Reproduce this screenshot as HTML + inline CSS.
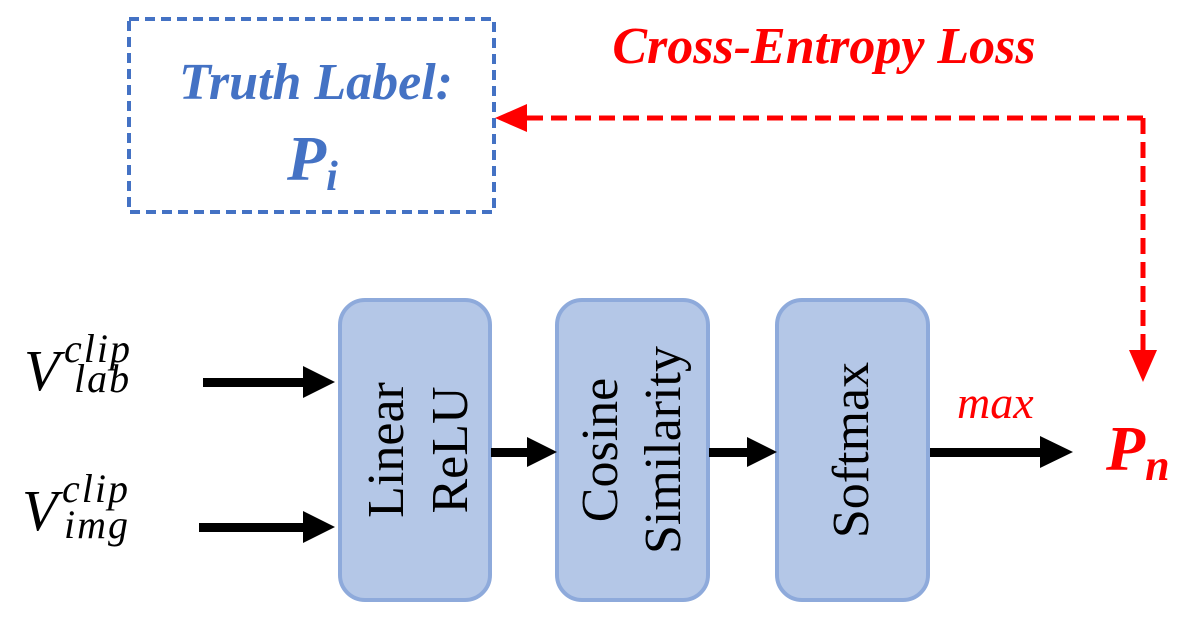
<!DOCTYPE html>
<html><head><style>body{margin:0;background:#fff}svg{display:block}</style></head>
<body>
<svg width="1194" height="623" viewBox="0 0 1194 623" xmlns="http://www.w3.org/2000/svg">
<!-- truth box -->
<rect x="129" y="19" width="365" height="193" fill="none" stroke="#4472c4" stroke-width="4" stroke-dasharray="10,6"/>
<text x="316" y="99" text-anchor="middle" font-family="Liberation Serif" font-weight="bold" font-style="italic" font-size="52" fill="#4472c4">Truth Label:</text>
<text x="287" y="180" font-family="Liberation Serif" font-weight="bold" font-style="italic" font-size="64" fill="#4472c4">P<tspan font-size="42" dy="10">i</tspan></text>
<text x="824" y="63" text-anchor="middle" font-family="Liberation Serif" font-weight="bold" font-style="italic" font-size="52" fill="#ff0000">Cross-Entropy Loss</text>
<!-- red dashed -->
<path d="M1143 118 H525" stroke="#ff0000" stroke-width="5" fill="none" stroke-dasharray="16,8"/>
<polygon points="495,118 527,104 527,132" fill="#ff0000"/>
<path d="M1143 118 V350" stroke="#ff0000" stroke-width="5" fill="none" stroke-dasharray="16,8"/>
<polygon points="1143,382 1129,350 1157,350" fill="#ff0000"/>
<!-- boxes -->
<rect x="340" y="300" width="150" height="300" rx="25" fill="#b4c7e7" stroke="#8eaadb" stroke-width="4"/>
<rect x="557" y="300" width="151" height="300" rx="25" fill="#b4c7e7" stroke="#8eaadb" stroke-width="4"/>
<rect x="777" y="300" width="151" height="300" rx="25" fill="#b4c7e7" stroke="#8eaadb" stroke-width="4"/>
<g font-family="Liberation Serif" font-size="52" fill="#000" text-anchor="middle">
<text transform="translate(403,450) rotate(-90)">Linear</text>
<text transform="translate(467,450) rotate(-90)">ReLU</text>
<text transform="translate(617,450) rotate(-90)">Cosine</text>
<text transform="translate(680,450) rotate(-90)">Similarity</text>
<text transform="translate(868,450) rotate(-90)">Softmax</text>
</g>
<!-- arrows -->
<g fill="#000">
<rect x="203" y="378" width="102" height="9"/><polygon points="335,382 303,366 303,398"/>
<rect x="199" y="523" width="106" height="9"/><polygon points="335,527 303,511 303,543"/>
<rect x="491" y="448" width="38" height="9"/><polygon points="557,452 527,437 527,467"/>
<rect x="709" y="448" width="40" height="9"/><polygon points="777,452 747,437 747,467"/>
<rect x="930" y="448" width="112" height="9"/><polygon points="1073,452 1040,436 1040,468"/>
</g>
<text x="957" y="418" font-family="Liberation Serif" font-style="italic" font-size="46" fill="#ff0000">max</text>
<text x="1106" y="470" font-family="Liberation Serif" font-weight="bold" font-style="italic" font-size="64" fill="#ff0000">P<tspan font-size="44" dy="10">n</tspan></text>
<!-- V labels -->
<g font-family="Liberation Serif" font-style="italic" fill="#000">
<text x="24" y="390" font-size="58">V</text>
<text x="64" y="362" font-size="40" letter-spacing="2">clip</text>
<text x="74" y="392" font-size="40" letter-spacing="2">lab</text>
<text x="22" y="530" font-size="58">V</text>
<text x="62" y="502" font-size="40" letter-spacing="2">clip</text>
<text x="64" y="538" font-size="40" letter-spacing="2">img</text>
</g>
</svg>
</body></html>
